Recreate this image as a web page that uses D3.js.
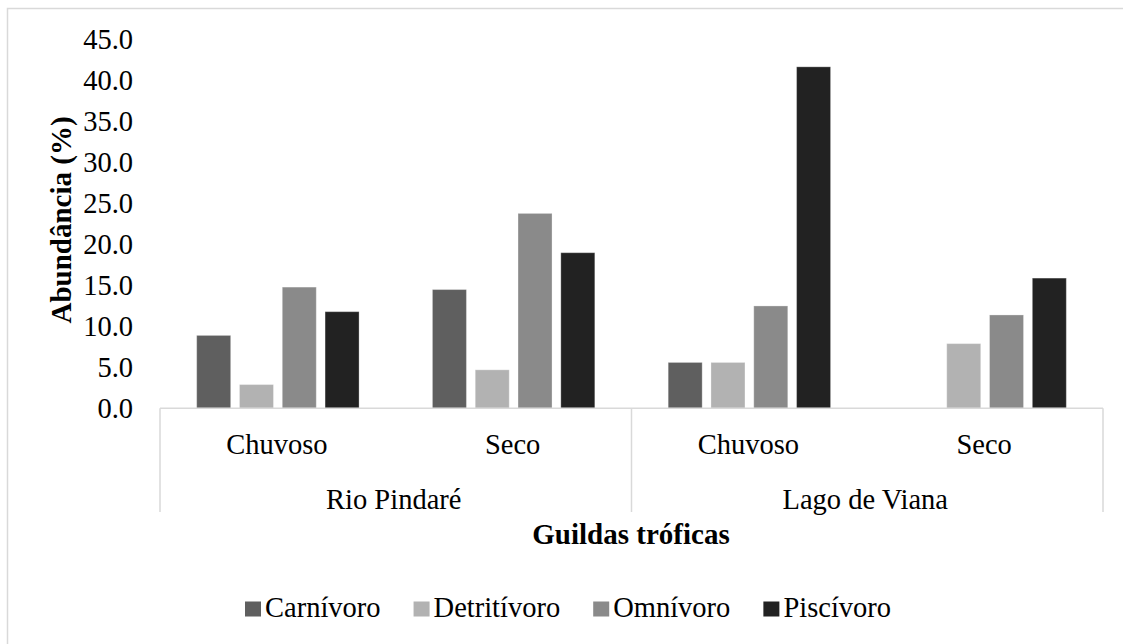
<!DOCTYPE html>
<html>
<head>
<meta charset="utf-8">
<script src="https://cdn.jsdelivr.net/npm/d3@7"></script>
<style>
  html, body { margin: 0; padding: 0; background: #fff; overflow: hidden; }
  svg { display: block; font-family: "Liberation Serif", "Times New Roman", serif; }
</style>
</head>
<body>
<svg id="chart" width="1123" height="644"></svg>
<script>
// Sites, seasons and trophic guilds
const sites = ["Rio Pindaré", "Lago de Viana"];
const seasons = ["Chuvoso", "Seco"];
const guilds = ["Carnívoro", "Detritívoro", "Omnívoro", "Piscívoro"];

// Abundance (%) per guild, in order: Rio Pindaré Chuvoso, Rio Pindaré Seco,
// Lago de Viana Chuvoso, Lago de Viana Seco
const carnivoro   = [8.9, 14.5, 5.6, 0.0];
const detritivoro = [2.9, 4.7, 5.6, 7.9];
const omnivoro    = [14.8, 23.8, 12.5, 11.4];
const piscivoro   = [11.8, 19.0, 41.7, 15.9];

const yTicks = [0, 5, 10, 15, 20, 25, 30, 35, 40, 45];

const guildColors = ["#5f5f5f", "#b2b2b2", "#8a8a8a", "#222222"];
const seriesValues = [carnivoro, detritivoro, omnivoro, piscivoro];

// One group per site/season pair
const groups = [];
sites.forEach(s => seasons.forEach(p => groups.push({ site: s, season: p, key: s + "|" + p })));

const rows = groups.map((g, i) => {
  const r = { key: g.key, site: g.site, season: g.season };
  guilds.forEach((gu, j) => { r[gu] = seriesValues[j][i]; });
  return r;
});

const svg = d3.select("#chart");
const plot = { left: 160, right: 1103, top: 39.8, bottom: 408.3 };
const grey = "#d9d9d9";

// Chart frame
svg.append("rect")
  .attr("x", 7.5).attr("y", 8.5)
  .attr("width", 1200).attr("height", 700)
  .attr("fill", "#fff").attr("stroke", grey).attr("stroke-width", 1.5);

const x0 = d3.scaleBand().domain(groups.map(g => g.key)).range([plot.left, plot.right]).padding(0);
const x1 = d3.scaleBand().domain(guilds).range([0, x0.bandwidth()])
  .paddingInner(0.2056).paddingOuter(0.857);
const y = d3.scaleLinear().domain([0, 45]).range([plot.bottom, plot.top]);
const color = d3.scaleOrdinal().domain(guilds).range(guildColors);

// Bars
const g = svg.append("g");
g.selectAll("g.grp")
  .data(rows)
  .join("g")
  .attr("class", "grp")
  .attr("transform", d => `translate(${x0(d.key)},0)`)
  .selectAll("rect")
  .data(d => guilds.map(k => ({ key: k, value: d[k] })).filter(v => v.value > 0))
  .join("rect")
  .attr("x", d => x1(d.key))
  .attr("y", d => y(d.value))
  .attr("width", x1.bandwidth())
  .attr("height", d => y(0) - y(d.value))
  .attr("fill", d => color(d.key))
  .attr("stroke", "#ffffff")
  .attr("stroke-opacity", 0.3)
  .attr("stroke-width", 1);

// Y axis (labels only)
const yAxis = svg.append("g")
  .attr("transform", `translate(${plot.left},0)`)
  .call(d3.axisLeft(y).tickValues(yTicks).tickFormat(d3.format(".1f")).tickSize(0).tickPadding(27));
yAxis.select(".domain").remove();
yAxis.selectAll("text")
  .attr("font-family", "Liberation Serif, serif")
  .attr("font-size", "28.5px")
  .attr("fill", "#000");

// Category axis baseline and site separators
svg.append("line")
  .attr("x1", plot.left).attr("x2", plot.right)
  .attr("y1", plot.bottom).attr("y2", plot.bottom)
  .attr("stroke", grey).attr("stroke-width", 1.5);

const siteScale = d3.scaleBand().domain(sites).range([plot.left, plot.right]);
const sepX = [plot.left].concat(sites.map(s => siteScale(s) + siteScale.bandwidth()));
svg.selectAll("line.sep")
  .data(sepX)
  .join("line")
  .attr("class", "sep")
  .attr("x1", d => d).attr("x2", d => d)
  .attr("y1", plot.bottom).attr("y2", 512)
  .attr("stroke", grey).attr("stroke-width", 1.5);

// Season labels
svg.selectAll("text.season")
  .data(groups)
  .join("text")
  .attr("class", "season")
  .attr("x", d => x0(d.key) + x0.bandwidth() / 2 - 1)
  .attr("y", 454)
  .attr("text-anchor", "middle")
  .attr("font-size", "28.5px")
  .text(d => d.season);

// Site labels
svg.selectAll("text.site")
  .data(sites)
  .join("text")
  .attr("class", "site")
  .attr("x", d => siteScale(d) + siteScale.bandwidth() / 2 - 2)
  .attr("y", 509)
  .attr("text-anchor", "middle")
  .attr("font-size", "28.5px")
  .text(d => d);

// Axis titles
svg.append("text")
  .attr("x", 631).attr("y", 544)
  .attr("text-anchor", "middle")
  .attr("font-size", "29px")
  .attr("font-weight", "bold")
  .text("Guildas tróficas");

svg.append("text")
  .attr("transform", "translate(70.5,220) rotate(-90)")
  .attr("text-anchor", "middle")
  .attr("font-size", "29px")
  .attr("font-weight", "bold")
  .text("Abundância (%)");

// Legend
const legend = svg.append("g");
let lx = 245;
guilds.forEach(k => {
  legend.append("rect")
    .attr("x", lx).attr("y", 601.5)
    .attr("width", 16).attr("height", 15)
    .attr("fill", color(k));
  const t = legend.append("text")
    .attr("x", lx + 20).attr("y", 616.5)
    .attr("font-size", "28.5px")
    .text(k);
  lx += 20 + t.node().getComputedTextLength() + 33;
});
</script>
</body>
</html>
